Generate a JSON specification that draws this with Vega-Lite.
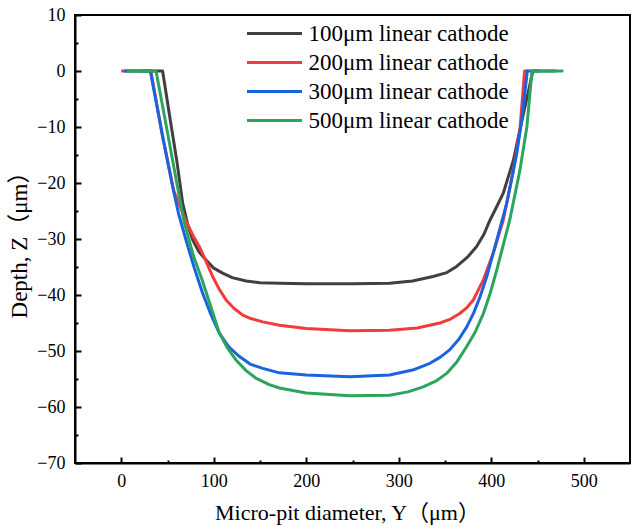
{
  "$schema": "https://vega.github.io/schema/vega-lite/v6.json",
  "width": 555,
  "height": 448,
  "autosize": "none",
  "padding": {"left": 75, "top": 15, "right": 3, "bottom": 66},
  "background": "white",
  "config": {
    "view": {"stroke": "black", "strokeWidth": 2},
    "font": "Liberation Serif"
  },
  "data": {"values": [
      {"s": "100μm linear cathode", "x": 20, "y": 0},
      {"s": "100μm linear cathode", "x": 44.7, "y": 0},
      {"s": "100μm linear cathode", "x": 53, "y": -8.75},
      {"s": "100μm linear cathode", "x": 60, "y": -16},
      {"s": "100μm linear cathode", "x": 66.4, "y": -23.6},
      {"s": "100μm linear cathode", "x": 72, "y": -27.5},
      {"s": "100μm linear cathode", "x": 77.3, "y": -30.2},
      {"s": "100μm linear cathode", "x": 84, "y": -32.3},
      {"s": "100μm linear cathode", "x": 91.7, "y": -33.75},
      {"s": "100μm linear cathode", "x": 100, "y": -35.2},
      {"s": "100μm linear cathode", "x": 109.6, "y": -36.1},
      {"s": "100μm linear cathode", "x": 120, "y": -36.9},
      {"s": "100μm linear cathode", "x": 135, "y": -37.5},
      {"s": "100μm linear cathode", "x": 150, "y": -37.8},
      {"s": "100μm linear cathode", "x": 171, "y": -37.9},
      {"s": "100μm linear cathode", "x": 200, "y": -38},
      {"s": "100μm linear cathode", "x": 250, "y": -38},
      {"s": "100μm linear cathode", "x": 290, "y": -37.9},
      {"s": "100μm linear cathode", "x": 315, "y": -37.5},
      {"s": "100μm linear cathode", "x": 337, "y": -36.7},
      {"s": "100μm linear cathode", "x": 352, "y": -36},
      {"s": "100μm linear cathode", "x": 362.6, "y": -34.9},
      {"s": "100μm linear cathode", "x": 374, "y": -33.3},
      {"s": "100μm linear cathode", "x": 384, "y": -31.4},
      {"s": "100μm linear cathode", "x": 392, "y": -29.2},
      {"s": "100μm linear cathode", "x": 398.7, "y": -26.6},
      {"s": "100μm linear cathode", "x": 406, "y": -24.2},
      {"s": "100μm linear cathode", "x": 413, "y": -21.8},
      {"s": "100μm linear cathode", "x": 424, "y": -15.9},
      {"s": "100μm linear cathode", "x": 429.4, "y": -11.7},
      {"s": "100μm linear cathode", "x": 445, "y": 0},
      {"s": "100μm linear cathode", "x": 452, "y": 0},

      {"s": "200μm linear cathode", "x": 0, "y": 0},
      {"s": "200μm linear cathode", "x": 32, "y": 0},
      {"s": "200μm linear cathode", "x": 45, "y": -12},
      {"s": "200μm linear cathode", "x": 57, "y": -21.5},
      {"s": "200μm linear cathode", "x": 70, "y": -26.8},
      {"s": "200μm linear cathode", "x": 78, "y": -29.5},
      {"s": "200μm linear cathode", "x": 84.5, "y": -31.4},
      {"s": "200μm linear cathode", "x": 91.7, "y": -34},
      {"s": "200μm linear cathode", "x": 98.8, "y": -36.7},
      {"s": "200μm linear cathode", "x": 106, "y": -39},
      {"s": "200μm linear cathode", "x": 113.4, "y": -40.9},
      {"s": "200μm linear cathode", "x": 122, "y": -42.4},
      {"s": "200μm linear cathode", "x": 131.4, "y": -43.6},
      {"s": "200μm linear cathode", "x": 140, "y": -44.2},
      {"s": "200μm linear cathode", "x": 153, "y": -44.8},
      {"s": "200μm linear cathode", "x": 171, "y": -45.4},
      {"s": "200μm linear cathode", "x": 200, "y": -46},
      {"s": "200μm linear cathode", "x": 247, "y": -46.4},
      {"s": "200μm linear cathode", "x": 290, "y": -46.3},
      {"s": "200μm linear cathode", "x": 320, "y": -45.9},
      {"s": "200μm linear cathode", "x": 344.5, "y": -45},
      {"s": "200μm linear cathode", "x": 356, "y": -44.3},
      {"s": "200μm linear cathode", "x": 366, "y": -43.3},
      {"s": "200μm linear cathode", "x": 374, "y": -42.2},
      {"s": "200μm linear cathode", "x": 380.6, "y": -40.9},
      {"s": "200μm linear cathode", "x": 391.5, "y": -37.3},
      {"s": "200μm linear cathode", "x": 402, "y": -32.6},
      {"s": "200μm linear cathode", "x": 413, "y": -26.6},
      {"s": "200μm linear cathode", "x": 424, "y": -17.7},
      {"s": "200μm linear cathode", "x": 431, "y": -10.5},
      {"s": "200μm linear cathode", "x": 436, "y": 0},
      {"s": "200μm linear cathode", "x": 440, "y": 0},

      {"s": "300μm linear cathode", "x": 3, "y": 0},
      {"s": "300μm linear cathode", "x": 31.4, "y": 0},
      {"s": "300μm linear cathode", "x": 44, "y": -11},
      {"s": "300μm linear cathode", "x": 55.6, "y": -20.7},
      {"s": "300μm linear cathode", "x": 62, "y": -25.5},
      {"s": "300μm linear cathode", "x": 70, "y": -30.2},
      {"s": "300μm linear cathode", "x": 79, "y": -35.2},
      {"s": "300μm linear cathode", "x": 88, "y": -39.7},
      {"s": "300μm linear cathode", "x": 97, "y": -43.5},
      {"s": "300μm linear cathode", "x": 106, "y": -46.8},
      {"s": "300μm linear cathode", "x": 116, "y": -49.2},
      {"s": "300μm linear cathode", "x": 127.8, "y": -51},
      {"s": "300μm linear cathode", "x": 140, "y": -52.4},
      {"s": "300μm linear cathode", "x": 153, "y": -53.1},
      {"s": "300μm linear cathode", "x": 171, "y": -53.9},
      {"s": "300μm linear cathode", "x": 200, "y": -54.3},
      {"s": "300μm linear cathode", "x": 247, "y": -54.6},
      {"s": "300μm linear cathode", "x": 290, "y": -54.3},
      {"s": "300μm linear cathode", "x": 315, "y": -53.4},
      {"s": "300μm linear cathode", "x": 333.7, "y": -52.2},
      {"s": "300μm linear cathode", "x": 345, "y": -51.1},
      {"s": "300μm linear cathode", "x": 355, "y": -49.8},
      {"s": "300μm linear cathode", "x": 365, "y": -47.9},
      {"s": "300μm linear cathode", "x": 373.5, "y": -45.7},
      {"s": "300μm linear cathode", "x": 381, "y": -43.2},
      {"s": "300μm linear cathode", "x": 387.9, "y": -40.3},
      {"s": "300μm linear cathode", "x": 395, "y": -36.8},
      {"s": "300μm linear cathode", "x": 402, "y": -32.6},
      {"s": "300μm linear cathode", "x": 416.8, "y": -23.6},
      {"s": "300μm linear cathode", "x": 427.6, "y": -14.7},
      {"s": "300μm linear cathode", "x": 433, "y": -8.75},
      {"s": "300μm linear cathode", "x": 439, "y": 0},
      {"s": "300μm linear cathode", "x": 470, "y": 0},

      {"s": "500μm linear cathode", "x": 6, "y": 0},
      {"s": "500μm linear cathode", "x": 37.6, "y": 0},
      {"s": "500μm linear cathode", "x": 50, "y": -11},
      {"s": "500μm linear cathode", "x": 60, "y": -20},
      {"s": "500μm linear cathode", "x": 68, "y": -27},
      {"s": "500μm linear cathode", "x": 78, "y": -33},
      {"s": "500μm linear cathode", "x": 88, "y": -37.6},
      {"s": "500μm linear cathode", "x": 97, "y": -42.2},
      {"s": "500μm linear cathode", "x": 106, "y": -46.8},
      {"s": "500μm linear cathode", "x": 115, "y": -49.5},
      {"s": "500μm linear cathode", "x": 124, "y": -51.6},
      {"s": "500μm linear cathode", "x": 135, "y": -53.5},
      {"s": "500μm linear cathode", "x": 146, "y": -54.9},
      {"s": "500μm linear cathode", "x": 160, "y": -56},
      {"s": "500μm linear cathode", "x": 171, "y": -56.6},
      {"s": "500μm linear cathode", "x": 200, "y": -57.5},
      {"s": "500μm linear cathode", "x": 247, "y": -58},
      {"s": "500μm linear cathode", "x": 290, "y": -57.9},
      {"s": "500μm linear cathode", "x": 310, "y": -57.3},
      {"s": "500μm linear cathode", "x": 326.4, "y": -56.4},
      {"s": "500μm linear cathode", "x": 340, "y": -55.4},
      {"s": "500μm linear cathode", "x": 351.8, "y": -54},
      {"s": "500μm linear cathode", "x": 363, "y": -51.9},
      {"s": "500μm linear cathode", "x": 373.5, "y": -49.2},
      {"s": "500μm linear cathode", "x": 383, "y": -46.5},
      {"s": "500μm linear cathode", "x": 391.5, "y": -43.3},
      {"s": "500μm linear cathode", "x": 399, "y": -39.6},
      {"s": "500μm linear cathode", "x": 406, "y": -35.5},
      {"s": "500μm linear cathode", "x": 420, "y": -26.6},
      {"s": "500μm linear cathode", "x": 431, "y": -17.7},
      {"s": "500μm linear cathode", "x": 438.5, "y": -10},
      {"s": "500μm linear cathode", "x": 444, "y": 0},
      {"s": "500μm linear cathode", "x": 478, "y": 0}
  ]},
  "layer": [
    {
      "mark": {"type": "line", "strokeWidth": 3, "strokeJoin": "round"},
      "encoding": {
        "x": {
          "field": "x", "type": "quantitative",
          "scale": {"domain": [-50, 550], "nice": false, "zero": false},
          "axis": {
            "orient": "bottom",
            "values": [0, 100, 200, 300, 400, 500],
            "title": "Micro-pit diameter, Y（μm）",
            "titleFont": "Liberation Serif, Noto Sans CJK SC", "titleFontSize": 22, "titleFontWeight": "normal", "titleColor": "black",
            "titlePadding": 12, "titleX": 272,
            "labelFont": "Liberation Serif", "labelFontSize": 18, "labelColor": "black",
            "labelPadding": 9,
            "ticks": false,
            "domainColor": "black", "domainWidth": 2,
            "grid": false
          }
        },
        "y": {
          "field": "y", "type": "quantitative",
          "scale": {"domain": [-70, 10], "nice": false, "zero": false},
          "axis": {
            "orient": "left",
            "values": [10, 0, -10, -20, -30, -40, -50, -60, -70],
            "title": "Depth, Z（μm）",
            "titleFont": "Liberation Serif, Noto Sans CJK SC", "titleFontSize": 23, "titleFontWeight": "normal", "titleColor": "black",
            "titlePadding": 5,
            "labelFont": "Liberation Serif", "labelFontSize": 18, "labelColor": "black",
            "labelPadding": 10,
            "ticks": false,
            "domainColor": "black", "domainWidth": 2,
            "grid": false
          }
        },
        "color": {
          "field": "s", "type": "nominal",
          "scale": {
            "domain": ["100μm linear cathode", "200μm linear cathode", "300μm linear cathode", "500μm linear cathode"],
            "range": ["#404040", "#f23b3b", "#1a63e0", "#2ca55c"]
          },
          "legend": {
            "title": null,
            "orient": "none",
            "legendX": 184,
            "legendY": 3,
            "symbolType": "M-2,0L2,0",
            "symbolSize": 756,
            "symbolStrokeWidth": 3,
            "labelFont": "Liberation Serif",
            "labelFontSize": 23,
            "labelColor": "black",
            "labelLimit": 0,
            "labelOffset": 18.5,
            "rowPadding": 1
          }
        }
      }
    },
    {
      "mark": {"type": "point", "opacity": 0},
      "encoding": {
        "x": {
          "field": "x", "type": "quantitative",
          "scale": {"domain": [-50, 550], "nice": false, "zero": false},
          "axis": {
            "orient": "top", "offset": -448, "zindex": 1,
            "values": [0, 100, 200, 300, 400, 500],
            "labels": true, "labelOpacity": 0, "title": "", "domain": false, "grid": false,
            "ticks": true, "tickSize": 6, "tickColor": "#000000", "tickWidth": 2
          }
        },
        "y": {
          "field": "y", "type": "quantitative",
          "scale": {"domain": [-70, 10], "nice": false, "zero": false},
          "axis": {
            "orient": "right", "offset": -555, "zindex": 1,
            "values": [10, 0, -10, -20, -30, -40, -50, -60, -70],
            "labels": true, "labelOpacity": 0, "title": "", "domain": false, "grid": false,
            "ticks": true, "tickSize": 6, "tickColor": "#000000", "tickWidth": 2
          }
        }
      }
    },
    {
      "mark": {"type": "point", "opacity": 0},
      "encoding": {
        "x": {
          "field": "x", "type": "quantitative",
          "scale": {"domain": [-50, 550], "nice": false, "zero": false},
          "axis": {
            "orient": "top", "offset": -448, "zindex": 1,
            "values": [50, 150, 250, 350, 450],
            "labels": true, "labelOpacity": 0, "title": "", "domain": false, "grid": false,
            "ticks": true, "tickSize": 3, "tickColor": "#000000", "tickWidth": 2
          }
        },
        "y": {
          "field": "y", "type": "quantitative",
          "scale": {"domain": [-70, 10], "nice": false, "zero": false},
          "axis": {
            "orient": "right", "offset": -555, "zindex": 1,
            "values": [5, -5, -15, -25, -35, -45, -55, -65],
            "labels": true, "labelOpacity": 0, "title": "", "domain": false, "grid": false,
            "ticks": true, "tickSize": 3, "tickColor": "#000000", "tickWidth": 2
          }
        }
      }
    }
  ],
  "resolve": {
    "scale": {"x": "independent", "y": "independent"},
    "axis": {"x": "independent", "y": "independent"}
  }
}
